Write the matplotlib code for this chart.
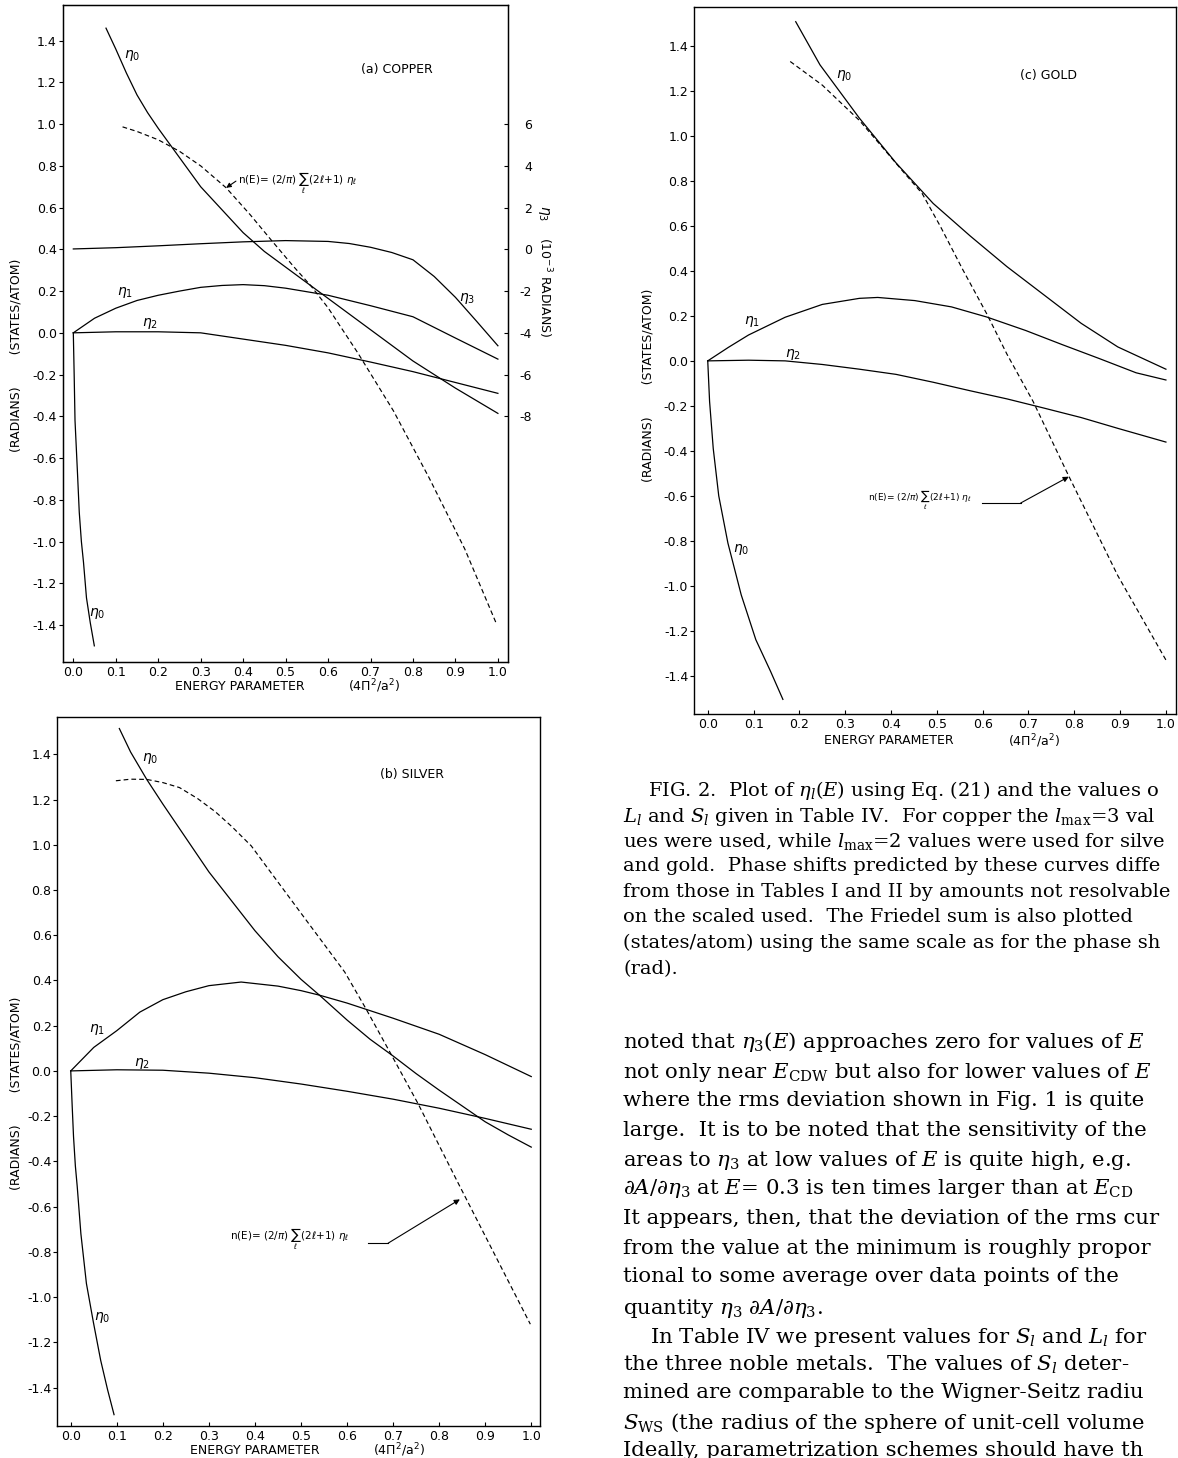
import numpy as np
import matplotlib.pyplot as plt

plt.rcParams['font.family'] = ['DejaVu Sans']
plt.rcParams['mathtext.fontset'] = 'dejavusans'

W, H = 1178, 1458

# ---------------- (a) copper ----------------
cu_e0_hi_x = [0.077, 0.10, 0.125, 0.15, 0.175, 0.20, 0.25, 0.30, 0.35, 0.40, 0.45, 0.50, 0.55, 0.60, 0.70, 0.80, 0.90, 1.00]
cu_e0_hi_y = [1.46, 1.36, 1.245, 1.14, 1.055, 0.98, 0.84, 0.70, 0.59, 0.48, 0.39, 0.315, 0.24, 0.165, 0.015, -0.135, -0.265, -0.386]
cu_e0_lo_x = [0.0, 0.002, 0.004, 0.007, 0.010, 0.014, 0.019, 0.024, 0.031, 0.040, 0.0495]
cu_e0_lo_y = [0.0, -0.20, -0.42, -0.55, -0.68, -0.86, -1.00, -1.10, -1.27, -1.39, -1.50]
cu_e1_x = [0.0, 0.05, 0.10, 0.15, 0.20, 0.25, 0.30, 0.35, 0.40, 0.45, 0.50, 0.60, 0.70, 0.80, 0.90, 1.00]
cu_e1_y = [0.0, 0.07, 0.118, 0.155, 0.18, 0.20, 0.218, 0.227, 0.231, 0.226, 0.214, 0.18, 0.13, 0.077, -0.025, -0.126]
cu_e2_x = [0.0, 0.1, 0.2, 0.3, 0.4, 0.5, 0.6, 0.7, 0.8, 0.9, 1.0]
cu_e2_y = [0.0, 0.005, 0.005, 0.0, -0.03, -0.06, -0.096, -0.14, -0.186, -0.238, -0.29]
# eta_3 in units of 1e-3 rad (right axis)
cu_e3_x = [0.0, 0.1, 0.2, 0.3, 0.4, 0.5, 0.6, 0.65, 0.7, 0.75, 0.8, 0.85, 0.9, 0.95, 1.0]
cu_e3_y = [0.02, 0.08, 0.17, 0.27, 0.36, 0.42, 0.38, 0.28, 0.10, -0.15, -0.50, -1.30, -2.30, -3.45, -4.62]
cu_n_x = [0.116, 0.15, 0.20, 0.25, 0.30, 0.36, 0.417, 0.468, 0.52, 0.56, 0.60, 0.67, 0.754, 0.838, 0.922, 0.995]
cu_n_y = [0.987, 0.965, 0.925, 0.87, 0.80, 0.695, 0.565, 0.44, 0.315, 0.224, 0.12, -0.096, -0.374, -0.695, -1.036, -1.387]

# ---------------- (b) silver ----------------
ag_e0_hi_x = [0.1055, 0.13, 0.165, 0.20, 0.25, 0.30, 0.35, 0.40, 0.45, 0.50, 0.54, 0.60, 0.65, 0.70, 0.75, 0.80, 0.85, 0.90, 0.95, 1.00]
ag_e0_hi_y = [1.514, 1.41, 1.289, 1.18, 1.03, 0.88, 0.75, 0.62, 0.505, 0.405, 0.335, 0.225, 0.14, 0.066, -0.012, -0.085, -0.155, -0.225, -0.283, -0.337]
ag_e0_lo_x = [0.0, 0.003, 0.006, 0.010, 0.014, 0.022, 0.034, 0.049, 0.065, 0.080, 0.094]
ag_e0_lo_y = [0.0, -0.15, -0.29, -0.42, -0.51, -0.72, -0.94, -1.11, -1.28, -1.41, -1.52]
ag_e1_x = [0.0, 0.05, 0.10, 0.15, 0.20, 0.25, 0.30, 0.37, 0.45, 0.50, 0.54, 0.60, 0.70, 0.80, 0.90, 1.00]
ag_e1_y = [0.0, 0.104, 0.178, 0.26, 0.315, 0.35, 0.377, 0.393, 0.375, 0.355, 0.335, 0.30, 0.233, 0.162, 0.072, -0.025]
ag_e2_x = [0.0, 0.1, 0.2, 0.3, 0.4, 0.5, 0.6, 0.7, 0.8, 0.9, 1.0]
ag_e2_y = [0.0, 0.005, 0.003, -0.01, -0.03, -0.058, -0.09, -0.125, -0.165, -0.21, -0.258]
ag_n_x = [0.098, 0.13, 0.165, 0.20, 0.236, 0.275, 0.314, 0.35, 0.392, 0.43, 0.47, 0.51, 0.548, 0.595, 0.641, 0.696, 0.754, 0.838, 0.947, 0.998]
ag_n_y = [1.283, 1.29, 1.289, 1.275, 1.253, 1.205, 1.146, 1.08, 0.995, 0.89, 0.78, 0.67, 0.566, 0.437, 0.275, 0.072, -0.144, -0.483, -0.917, -1.12]

# ---------------- (c) gold ----------------
au_e0_hi_x = [0.192, 0.245, 0.331, 0.411, 0.492, 0.573, 0.653, 0.734, 0.815, 0.895, 1.0]
au_e0_hi_y = [1.508, 1.316, 1.079, 0.88, 0.70, 0.555, 0.419, 0.293, 0.167, 0.062, -0.037]
au_e0_lo_x = [0.0, 0.004, 0.012, 0.024, 0.044, 0.073, 0.105, 0.137, 0.164]
au_e0_lo_y = [0.0, -0.18, -0.39, -0.60, -0.81, -1.04, -1.24, -1.38, -1.505]
au_e1_x = [0.0, 0.045, 0.089, 0.169, 0.25, 0.331, 0.371, 0.452, 0.532, 0.609, 0.694, 0.774, 0.855, 0.935, 1.0]
au_e1_y = [0.0, 0.06, 0.115, 0.194, 0.251, 0.278, 0.282, 0.268, 0.24, 0.195, 0.135, 0.072, 0.01, -0.053, -0.085]
au_e2_x = [0.0, 0.089, 0.169, 0.25, 0.331, 0.411, 0.492, 0.573, 0.653, 0.734, 0.815, 0.895, 1.0]
au_e2_y = [0.0, 0.003, 0.0, -0.016, -0.037, -0.06, -0.095, -0.133, -0.169, -0.21, -0.252, -0.30, -0.361]
au_n_x = [0.18, 0.25, 0.331, 0.379, 0.427, 0.468, 0.508, 0.556, 0.609, 0.653, 0.71, 0.786, 0.895, 1.0]
au_n_y = [1.331, 1.226, 1.069, 0.955, 0.84, 0.744, 0.597, 0.408, 0.209, 0.03, -0.18, -0.504, -0.955, -1.33]

x_ticks = np.round(np.arange(0, 1.01, 0.1), 1)
y_ticks = np.round(np.arange(-1.4, 1.41, 0.2), 1)
r_ticks = [-8, -6, -4, -2, 0, 2, 4, 6]

# page text, as far as it is visible (the scan is cut at the right edge)
caption = [
    r"FIG. 2.  Plot of $\eta_l(E)$ using Eq. (21) and the values o",
    r"$L_l$ and $S_l$ given in Table IV.  For copper the $l_{\rm max}$=3 val",
    r"ues were used, while $l_{\rm max}$=2 values were used for silve",
    "and gold.  Phase shifts predicted by these curves diffe",
    "from those in Tables I and II by amounts not resolvable",
    "on the scaled used.  The Friedel sum is also plotted",
    "(states/atom) using the same scale as for the phase sh",
    "(rad).",
]
body = [
    r"noted that $\eta_3(E)$ approaches zero for values of $E$",
    r"not only near $E_{\rm CDW}$ but also for lower values of $E$",
    "where the rms deviation shown in Fig. 1 is quite",
    "large.  It is to be noted that the sensitivity of the",
    r"areas to $\eta_3$ at low values of $E$ is quite high, e.g.",
    r"$\partial A/\partial\eta_3$ at $E$= 0.3 is ten times larger than at $E_{\rm CD}$",
    "It appears, then, that the deviation of the rms cur",
    "from the value at the minimum is roughly propor",
    "tional to some average over data points of the",
    r"quantity $\eta_3$ $\partial A/\partial\eta_3$.",
    r"In Table IV we present values for $S_l$ and $L_l$ for",
    r"the three noble metals.  The values of $S_l$ deter-",
    "mined are comparable to the Wigner-Seitz radiu",
    r"$S_{\rm WS}$ (the radius of the sphere of unit-cell volume",
    "Ideally, parametrization schemes should have th",
]

fig = plt.figure(figsize=(W / 100, H / 100), dpi=100)


def add_ax(l, t, r, b):
    return fig.add_axes([l / W, 1 - b / H, (r - l) / W, (b - t) / H])


def fpt(x, y):
    return x / W, 1 - y / H


def frame(ax, xlim, ylim):
    ax.set_xlim(*xlim)
    ax.set_ylim(*ylim)
    ax.set_xticks(x_ticks)
    ax.set_xticklabels([f"{v:.1f}" for v in x_ticks])
    ax.set_yticks(y_ticks)
    ax.set_yticklabels([f"{v:.1f}".replace("-0.0", "0.0") for v in y_ticks])
    ax.tick_params(axis='x', direction='in', length=3, width=0.8, pad=3, labelsize=9)
    ax.tick_params(axis='y', direction='out', length=3, width=0.8, pad=1.2, labelsize=9)
    for s in ax.spines.values():
        s.set_linewidth(1.0)


def curves(ax, sets, nx, ny):
    for xs, ys in sets:
        ax.plot(xs, ys, color='k', lw=0.9)
    ax.plot(nx, ny, color='k', lw=0.85, ls=(0, (4, 2.6)))


def eta(ax, x, y, s):
    ax.text(x, y, r"$\eta_{%s}$" % s, fontsize=10, ha='center', va='center')


NE = r"n(E)= (2/$\pi$) $\sum_{\ell}$(2$\ell$+1) $\eta_{\ell}$"

# ---------- (a) ----------
axa = add_ax(62.7, 5, 507.5, 661.5)
frame(axa, (-0.025, 1.0226), (-1.575, 1.571))
curves(axa, [(cu_e0_hi_x, cu_e0_hi_y), (cu_e0_lo_x, cu_e0_lo_y),
             (cu_e1_x, cu_e1_y), (cu_e2_x, cu_e2_y)], cu_n_x, cu_n_y)
axa2 = axa.twinx()
axa2.set_ylim(10 * -1.575 - 4, 10 * 1.571 - 4)
axa2.plot(cu_e3_x, cu_e3_y, color='k', lw=0.9)
axa2.set_yticks(r_ticks)
axa2.set_yticklabels([str(v) for v in r_ticks], ha='right')
axa2.tick_params(axis='y', direction='in', length=3, width=0.8, pad=17.5, labelsize=9)
eta(axa, 0.138, 1.331, "0")
eta(axa, 0.055, -1.344, "0")
eta(axa, 0.122, 0.195, "1")
eta(axa, 0.181, 0.045, "2")
eta(axa, 0.927, 0.165, "3")
axa.text(0.763, 1.264, "(a) COPPER", fontsize=9, ha='center', va='center')
axa.text(0.387, 0.716, NE, fontsize=7.5, ha='left', va='center')
axa.annotate('', xy=(0.36, 0.695), xytext=(0.383, 0.727),
             arrowprops=dict(arrowstyle='-|>', lw=0.8, color='k', shrinkA=0, shrinkB=0, mutation_scale=7))
fig.text(*fpt(543, 213), r"$\eta_3$", rotation=270, fontsize=10, ha='center', va='center')
fig.text(*fpt(545, 287), r"(10$^{-3}$ RADIANS)", rotation=270, fontsize=9, ha='center', va='center')

# ---------- (b) ----------
axb = add_ax(57.4, 717, 540, 1425.5)
frame(axb, (-0.029, 1.019), (-1.568, 1.565))
curves(axb, [(ag_e0_hi_x, ag_e0_hi_y), (ag_e0_lo_x, ag_e0_lo_y),
             (ag_e1_x, ag_e1_y), (ag_e2_x, ag_e2_y)], ag_n_x, ag_n_y)
eta(axb, 0.172, 1.382, "0")
eta(axb, 0.069, -1.089, "0")
eta(axb, 0.057, 0.183, "1")
eta(axb, 0.154, 0.032, "2")
axb.text(0.741, 1.309, "(b) SILVER", fontsize=9, ha='center', va='center')
axb.text(0.345, -0.744, NE, fontsize=7.5, ha='left', va='center')
axb.plot([0.646, 0.689], [-0.762, -0.762], color='k', lw=0.8)
axb.annotate('', xy=(0.845, -0.568), xytext=(0.689, -0.762),
             arrowprops=dict(arrowstyle='-|>', lw=0.8, color='k', shrinkA=0, shrinkB=0, mutation_scale=8))

# ---------- (c) ----------
axc = add_ax(694, 7.3, 1176, 714)
frame(axc, (-0.03, 1.022), (-1.570, 1.572))
curves(axc, [(au_e0_hi_x, au_e0_hi_y), (au_e0_lo_x, au_e0_lo_y),
             (au_e1_x, au_e1_y), (au_e2_x, au_e2_y)], au_n_x, au_n_y)
eta(axc, 0.298, 1.268, "0")
eta(axc, 0.073, -0.84, "0")
eta(axc, 0.097, 0.177, "1")
eta(axc, 0.185, 0.03, "2")
axc.text(0.743, 1.267, "(c) GOLD", fontsize=9, ha='center', va='center')
axc.text(0.349, -0.621, NE, fontsize=6.5, ha='left', va='center')
axc.plot([0.598, 0.683], [-0.632, -0.632], color='k', lw=0.8)
axc.annotate('', xy=(0.788, -0.515), xytext=(0.683, -0.632),
             arrowprops=dict(arrowstyle='-|>', lw=0.8, color='k', shrinkA=0, shrinkB=0, mutation_scale=8))

# axis titles
ylab = "(RADIANS)        (STATES/ATOM)"
for (x, y) in [(16, 355), (16, 1093), (648, 385)]:
    fig.text(*fpt(x, y), ylab, rotation=90, fontsize=9, ha='center', va='center')
for (x1, x2, y) in [(240, 374, 686), (255, 399, 1450), (889, 1034, 741)]:
    fig.text(*fpt(x1, y), "ENERGY PARAMETER", fontsize=9, ha='center', va='center')
    fig.text(*fpt(x2, y), r"(4$\Pi^2$/a$^2$)", fontsize=9, ha='center', va='center')

# caption and running text
cap_y = [787.4, 813.6, 839, 864, 889.6, 914.9, 941, 966.9]
for i, (line, y) in enumerate(zip(caption, cap_y)):
    x = 648 if i == 0 else 623
    fig.text(*fpt(x, y), line, fontsize=14.0, family='DejaVu Serif',
             math_fontfamily='dejavuserif', ha='left', va='center_baseline')
body_y = [1039, 1069, 1098, 1128, 1157, 1186, 1216, 1246, 1275, 1305, 1334.6, 1362.7, 1391, 1420, 1448.7]
for i, (line, y) in enumerate(zip(body, body_y)):
    x = 650 if i == 10 else 623
    fig.text(*fpt(x, y), line, fontsize=15.3, family='DejaVu Serif',
             math_fontfamily='dejavuserif', ha='left', va='center_baseline')

fig.savefig('out.png', dpi=100)
